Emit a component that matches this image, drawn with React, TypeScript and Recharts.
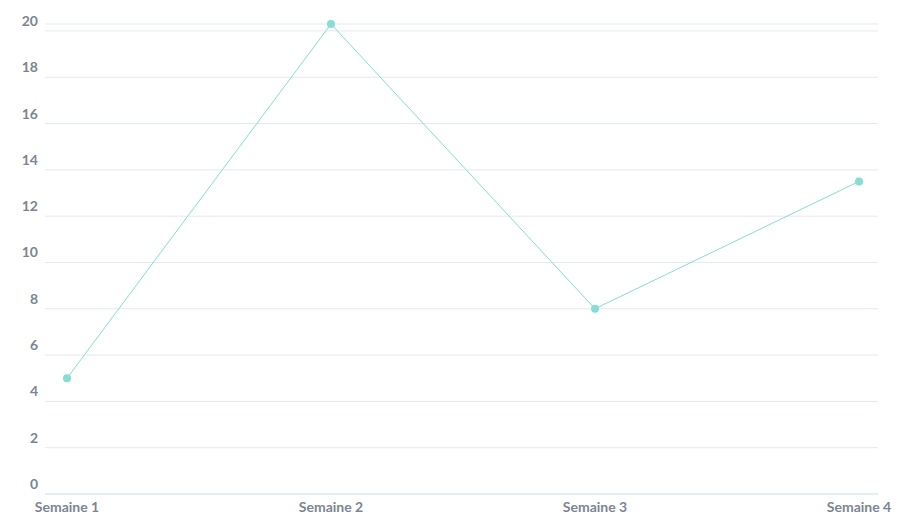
import React from "react";
import { LineChart, Line, XAxis, YAxis, CartesianGrid } from "recharts";

const weeks = ["Semaine 1", "Semaine 2", "Semaine 3", "Semaine 4"];
const values = [5, 20.3, 8, 13.5];
const yTicks = [0, 2, 4, 6, 8, 10, 12, 14, 16, 18, 20];

const data = weeks.map((name, i) => ({ name, value: values[i] }));

const font = "Lato, 'Open Sans', sans-serif";

const YTick = (props: any) => {
    const { y, payload } = props;
    return (
        <text x={30} y={y - 5} textAnchor="end" fill="#7b8591" fontSize={14} fontWeight={700} fontFamily={font}>
            {payload.value}
        </text>
    );
};

export default function App() {
    return (
        <LineChart width={896} height={510} data={data} margin={{ top: 16, right: 26, bottom: 0, left: 0 }}>
            <CartesianGrid vertical={false} stroke="#e3e9f0" />
            <XAxis
                dataKey="name"
                height={24}
                padding={{ left: 22, right: 19 }}
                axisLine={{ stroke: "#d8e6f2" }}
                tickLine={false}
                tick={{ fill: "#7b8591", fontSize: 14, fontWeight: 700, fontFamily: font }}
            />
            <YAxis
                width={37}
                domain={[0, 20.3]}
                ticks={yTicks}
                axisLine={false}
                tickLine={false}
                tick={<YTick />}
            />
            <Line
                type="linear"
                dataKey="value"
                stroke="#85ddd3"
                strokeWidth={1}
                dot={{ r: 4, fill: "#85ddd3", stroke: "none" }}
                isAnimationActive={false}
            />
        </LineChart>
    );
}
